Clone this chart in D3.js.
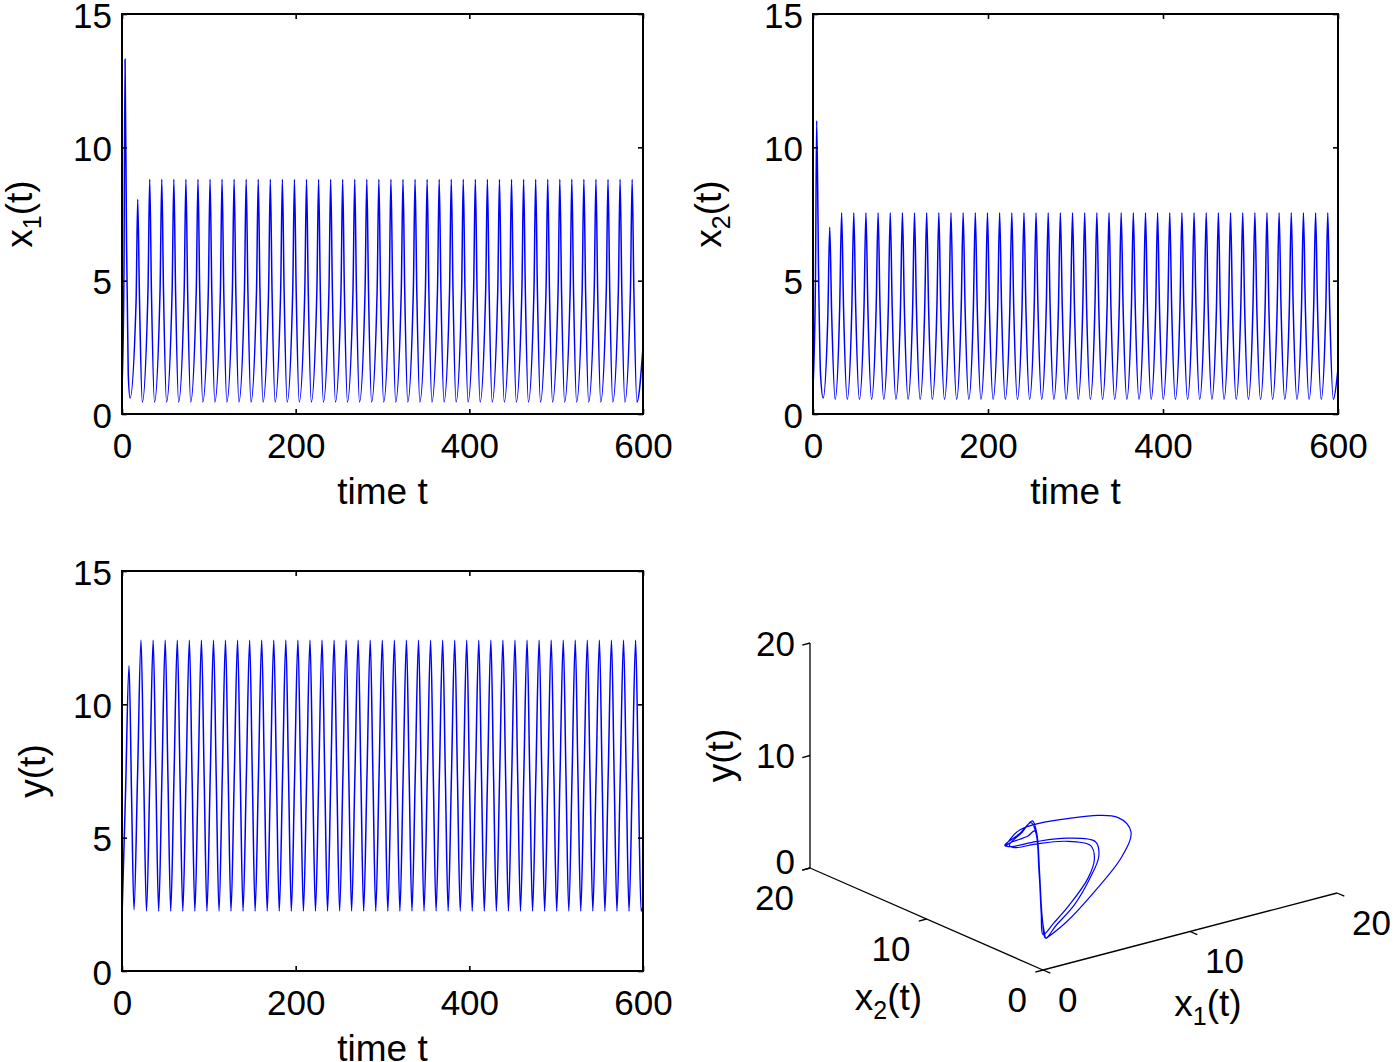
<!DOCTYPE html>
<html><head><meta charset="utf-8">
<script src="https://cdn.jsdelivr.net/npm/d3@7"></script>
<style>body{margin:0;background:#fff}</style>
</head><body>
<svg id="c" width="1395" height="1062" xmlns="http://www.w3.org/2000/svg"></svg>
<script>
// ---------------- data ----------------
const timeTicks = [0, 200, 400, 600];
const valueTicks = [0, 5, 10, 15];
const axis3dTicks = [0, 10, 20];

// x1(t): [time, value] key points (peaks, half-levels, troughs)
const x1Points = [
[0,1.0],[2.2,5.0],[3.5,13.3],[5.2,6.5],[7.2,1.5],[9.3,0.6],[16.2,4.2],[18.1,8.05],[20.1,4.4],[23.4,0.45],[29.9,4.6],
[31.9,8.8],[33.9,4.6],[37.4,0.45],[43.8,4.6],
[45.8,8.8],[47.8,4.6],[51.3,0.45],[57.7,4.6],
[59.7,8.8],[61.7,4.6],[65.2,0.45],[71.6,4.6],
[73.6,8.8],[75.6,4.6],[79.1,0.45],[85.5,4.6],
[87.5,8.8],[89.5,4.6],[93.0,0.45],[99.4,4.6],
[101.4,8.8],[103.4,4.6],[106.9,0.45],[113.3,4.6],
[115.2,8.8],[117.2,4.6],[120.7,0.45],[127.1,4.6],
[129.1,8.8],[131.1,4.6],[134.6,0.45],[141.0,4.6],
[143.0,8.8],[145.0,4.6],[148.5,0.45],[154.9,4.6],
[156.9,8.8],[158.9,4.6],[162.4,0.45],[168.8,4.6],
[170.8,8.8],[172.8,4.6],[176.3,0.45],[182.7,4.6],
[184.7,8.8],[186.7,4.6],[190.2,0.45],[196.6,4.6],
[198.6,8.8],[200.6,4.6],[204.1,0.45],[210.5,4.6],
[212.5,8.8],[214.5,4.6],[218.0,0.45],[224.4,4.6],
[226.4,8.8],[228.4,4.6],[231.9,0.45],[238.3,4.6],
[240.3,8.8],[242.3,4.6],[245.8,0.45],[252.2,4.6],
[254.1,8.8],[256.1,4.6],[259.6,0.45],[266.0,4.6],
[268.0,8.8],[270.0,4.6],[273.5,0.45],[279.9,4.6],
[281.9,8.8],[283.9,4.6],[287.4,0.45],[293.8,4.6],
[295.8,8.8],[297.8,4.6],[301.3,0.45],[307.7,4.6],
[309.7,8.8],[311.7,4.6],[315.2,0.45],[321.6,4.6],
[323.6,8.8],[325.6,4.6],[329.1,0.45],[335.5,4.6],
[337.5,8.8],[339.5,4.6],[343.0,0.45],[349.4,4.6],
[351.4,8.8],[353.4,4.6],[356.9,0.45],[363.3,4.6],
[365.3,8.8],[367.3,4.6],[370.8,0.45],[377.2,4.6],
[379.2,8.8],[381.2,4.6],[384.7,0.45],[391.1,4.6],
[393.0,8.8],[395.0,4.6],[398.5,0.45],[404.9,4.6],
[406.9,8.8],[408.9,4.6],[412.4,0.45],[418.8,4.6],
[420.8,8.8],[422.8,4.6],[426.3,0.45],[432.7,4.6],
[434.7,8.8],[436.7,4.6],[440.2,0.45],[446.6,4.6],
[448.6,8.8],[450.6,4.6],[454.1,0.45],[460.5,4.6],
[462.5,8.8],[464.5,4.6],[468.0,0.45],[474.4,4.6],
[476.4,8.8],[478.4,4.6],[481.9,0.45],[488.3,4.6],
[490.3,8.8],[492.3,4.6],[495.8,0.45],[502.2,4.6],
[504.2,8.8],[506.2,4.6],[509.7,0.45],[516.1,4.6],
[518.0,8.8],[520.0,4.6],[523.5,0.45],[529.9,4.6],
[531.9,8.8],[533.9,4.6],[537.4,0.45],[543.8,4.6],
[545.8,8.8],[547.8,4.6],[551.3,0.45],[557.7,4.6],
[559.7,8.8],[561.7,4.6],[565.2,0.45],[571.6,4.6],
[573.6,8.8],[575.6,4.6],[579.1,0.45],[585.5,4.6],
[587.5,8.8],[589.5,4.6],[593.0,0.45],[600.0,2.5]
];

// x2(t)
const x2Points = [
[0,1.0],[2.8,5.0],[4.2,11.0],[6.4,5.2],[8.6,1.5],[11.6,0.6],[16.9,3.6],[19.1,7.0],[21.3,3.8],[25.3,0.55],[30.5,4.0],
[32.7,7.55],[34.9,4.0],[39.1,0.55],[44.4,4.0],
[46.6,7.55],[48.8,4.0],[53.0,0.55],[58.3,4.0],
[60.5,7.55],[62.7,4.0],[66.9,0.55],[72.2,4.0],
[74.4,7.55],[76.6,4.0],[80.8,0.55],[86.1,4.0],
[88.3,7.55],[90.5,4.0],[94.7,0.55],[100.0,4.0],
[102.2,7.55],[104.4,4.0],[108.6,0.55],[113.9,4.0],
[116.0,7.55],[118.2,4.0],[122.4,0.55],[127.7,4.0],
[129.9,7.55],[132.1,4.0],[136.3,0.55],[141.6,4.0],
[143.8,7.55],[146.0,4.0],[150.2,0.55],[155.5,4.0],
[157.7,7.55],[159.9,4.0],[164.1,0.55],[169.4,4.0],
[171.6,7.55],[173.8,4.0],[178.0,0.55],[183.3,4.0],
[185.5,7.55],[187.7,4.0],[191.9,0.55],[197.2,4.0],
[199.4,7.55],[201.6,4.0],[205.8,0.55],[211.1,4.0],
[213.3,7.55],[215.5,4.0],[219.7,0.55],[225.0,4.0],
[227.2,7.55],[229.4,4.0],[233.6,0.55],[238.9,4.0],
[241.1,7.55],[243.3,4.0],[247.5,0.55],[252.8,4.0],
[254.9,7.55],[257.1,4.0],[261.3,0.55],[266.6,4.0],
[268.8,7.55],[271.0,4.0],[275.2,0.55],[280.5,4.0],
[282.7,7.55],[284.9,4.0],[289.1,0.55],[294.4,4.0],
[296.6,7.55],[298.8,4.0],[303.0,0.55],[308.3,4.0],
[310.5,7.55],[312.7,4.0],[316.9,0.55],[322.2,4.0],
[324.4,7.55],[326.6,4.0],[330.8,0.55],[336.1,4.0],
[338.3,7.55],[340.5,4.0],[344.7,0.55],[350.0,4.0],
[352.2,7.55],[354.4,4.0],[358.6,0.55],[363.9,4.0],
[366.1,7.55],[368.3,4.0],[372.5,0.55],[377.8,4.0],
[380.0,7.55],[382.2,4.0],[386.4,0.55],[391.7,4.0],
[393.8,7.55],[396.0,4.0],[400.2,0.55],[405.5,4.0],
[407.7,7.55],[409.9,4.0],[414.1,0.55],[419.4,4.0],
[421.6,7.55],[423.8,4.0],[428.0,0.55],[433.3,4.0],
[435.5,7.55],[437.7,4.0],[441.9,0.55],[447.2,4.0],
[449.4,7.55],[451.6,4.0],[455.8,0.55],[461.1,4.0],
[463.3,7.55],[465.5,4.0],[469.7,0.55],[475.0,4.0],
[477.2,7.55],[479.4,4.0],[483.6,0.55],[488.9,4.0],
[491.1,7.55],[493.3,4.0],[497.5,0.55],[502.8,4.0],
[505.0,7.55],[507.2,4.0],[511.4,0.55],[516.7,4.0],
[518.8,7.55],[521.0,4.0],[525.2,0.55],[530.5,4.0],
[532.7,7.55],[534.9,4.0],[539.1,0.55],[544.4,4.0],
[546.6,7.55],[548.8,4.0],[553.0,0.55],[558.3,4.0],
[560.5,7.55],[562.7,4.0],[566.9,0.55],[572.2,4.0],
[574.4,7.55],[576.6,4.0],[580.8,0.55],[586.1,4.0],
[588.3,7.55],[590.5,4.0],[594.7,0.55],[600.0,1.7]
];

// y(t)
const yPoints = [
[0,2.0],[4.0,6.6],[8.1,11.45],[11.0,6.6],[13.8,2.3],[17.9,7.3],[21.9,12.4],[25.0,7.3],[28.2,2.25],[32.1,7.3],
[35.9,12.4],[39.0,7.3],[42.2,2.25],[46.0,7.3],
[49.8,12.4],[52.9,7.3],[56.1,2.25],[59.9,7.3],
[63.7,12.4],[66.8,7.3],[70.0,2.25],[73.8,7.3],
[77.6,12.4],[80.7,7.3],[83.9,2.25],[87.7,7.3],
[91.5,12.4],[94.6,7.3],[97.8,2.25],[101.6,7.3],
[105.4,12.4],[108.5,7.3],[111.7,2.25],[115.5,7.3],
[119.2,12.4],[122.3,7.3],[125.5,2.25],[129.3,7.3],
[133.1,12.4],[136.2,7.3],[139.4,2.25],[143.2,7.3],
[147.0,12.4],[150.1,7.3],[153.3,2.25],[157.1,7.3],
[160.9,12.4],[164.0,7.3],[167.2,2.25],[171.0,7.3],
[174.8,12.4],[177.9,7.3],[181.1,2.25],[184.9,7.3],
[188.7,12.4],[191.8,7.3],[195.0,2.25],[198.8,7.3],
[202.6,12.4],[205.7,7.3],[208.9,2.25],[212.7,7.3],
[216.5,12.4],[219.6,7.3],[222.8,2.25],[226.6,7.3],
[230.4,12.4],[233.5,7.3],[236.7,2.25],[240.5,7.3],
[244.3,12.4],[247.4,7.3],[250.6,2.25],[254.4,7.3],
[258.1,12.4],[261.2,7.3],[264.4,2.25],[268.2,7.3],
[272.0,12.4],[275.1,7.3],[278.3,2.25],[282.1,7.3],
[285.9,12.4],[289.0,7.3],[292.2,2.25],[296.0,7.3],
[299.8,12.4],[302.9,7.3],[306.1,2.25],[309.9,7.3],
[313.7,12.4],[316.8,7.3],[320.0,2.25],[323.8,7.3],
[327.6,12.4],[330.7,7.3],[333.9,2.25],[337.7,7.3],
[341.5,12.4],[344.6,7.3],[347.8,2.25],[351.6,7.3],
[355.4,12.4],[358.5,7.3],[361.7,2.25],[365.5,7.3],
[369.3,12.4],[372.4,7.3],[375.6,2.25],[379.4,7.3],
[383.2,12.4],[386.3,7.3],[389.5,2.25],[393.3,7.3],
[397.0,12.4],[400.1,7.3],[403.3,2.25],[407.1,7.3],
[410.9,12.4],[414.0,7.3],[417.2,2.25],[421.0,7.3],
[424.8,12.4],[427.9,7.3],[431.1,2.25],[434.9,7.3],
[438.7,12.4],[441.8,7.3],[445.0,2.25],[448.8,7.3],
[452.6,12.4],[455.7,7.3],[458.9,2.25],[462.7,7.3],
[466.5,12.4],[469.6,7.3],[472.8,2.25],[476.6,7.3],
[480.4,12.4],[483.5,7.3],[486.7,2.25],[490.5,7.3],
[494.3,12.4],[497.4,7.3],[500.6,2.25],[504.4,7.3],
[508.2,12.4],[511.3,7.3],[514.5,2.25],[518.3,7.3],
[522.0,12.4],[525.1,7.3],[528.3,2.25],[532.1,7.3],
[535.9,12.4],[539.0,7.3],[542.2,2.25],[546.0,7.3],
[549.8,12.4],[552.9,7.3],[556.1,2.25],[559.9,7.3],
[563.7,12.4],[566.8,7.3],[570.0,2.25],[573.8,7.3],
[577.6,12.4],[580.7,7.3],[583.9,2.25],[587.7,7.3],
[591.5,12.4],[594.6,7.3],[597.8,2.25],[600.0,2.4]
];

// phase portrait (x1, x2, y) along the trajectory
const traj3dX1 = [1.0,3.0,6.5,10.5,12.8,13.2,10.5,6.5,3.0,1.3,0.8,0.7,0.6,0.55,0.6,
  1.4,3.0,5.6,7.3,8.0,6.9,5.0,2.8,1.2,0.8,0.7,0.65,0.6,0.65,0.8,
  1.6,3.4,6.0,8.0,8.8,7.5,5.5,3.0,1.2,0.8,0.7,0.65,0.6,0.65,0.8];
const traj3dX2 = [1.0,1.8,3.8,6.5,8.6,10.2,11.0,10.2,7.0,4.5,2.3,1.6,1.1,0.85,0.75,
  0.85,1.5,3.2,4.8,6.0,6.8,7.0,6.0,4.4,2.8,1.8,1.35,1.05,0.88,0.8,
  0.9,1.6,3.5,5.3,6.6,7.4,7.55,6.5,4.8,3.0,1.9,1.4,1.1,0.9,0.8];
const traj3dY = [2.0,2.4,3.0,3.5,4.0,4.4,4.9,5.6,6.8,8.8,10.6,11.4,8.0,4.5,2.6,
  3.3,4.1,4.8,5.2,5.6,6.0,6.3,7.2,8.7,10.7,12.2,11.3,8.0,4.0,2.2,
  3.0,3.9,4.6,5.0,5.4,5.8,6.1,7.0,8.5,10.5,12.0,11.2,8.0,4.0,2.2];

// ---------------- drawing ----------------
const FONT = '"Liberation Sans", Arial, Helvetica, sans-serif';
const TICK_FS = 35, LABEL_FS = 37, SUB_FS = 25;
const BLUE = '#0000ff';
const svg = d3.select('#c');
svg.append('rect').attr('width',1395).attr('height',1062).attr('fill','#fff');

function styleAxis(sel){
  sel.select('.domain').remove();
  sel.selectAll('.tick line').attr('stroke','#000').attr('stroke-width',1.6);
  sel.selectAll('text').attr('font-size',TICK_FS).attr('font-family',FONT).attr('fill','#000');
}

function addLabel(g, x, y, main, sub, rest, rotate){
  const t = g.append('text').attr('font-family',FONT).attr('font-size',LABEL_FS)
    .attr('text-anchor','middle').attr('fill','#000')
    .attr('transform', `translate(${x},${y})` + (rotate ? ' rotate(-90)' : ''));
  t.append('tspan').text(main);
  if (sub){
    t.append('tspan').attr('font-size',SUB_FS).attr('dy',9).text(sub);
    t.append('tspan').attr('dy',-9).text(rest);
  } else if (rest) {
    t.append('tspan').text(rest);
  }
}

function timePanel(box, points, yl){
  const x = d3.scaleLinear().domain([0,600]).range([box.l, box.r]);
  const y = d3.scaleLinear().domain([0,15]).range([box.b, box.t]);
  const g = svg.append('g');
  g.append('path').datum(points)
    .attr('d', d3.line().x(d=>x(d[0])).y(d=>y(d[1])).curve(d3.curveMonotoneX))
    .attr('fill','none').attr('stroke',BLUE).attr('stroke-width',1.5);
  g.append('g').attr('transform',`translate(0,${box.b})`)
    .call(d3.axisBottom(x).tickValues(timeTicks).tickSize(-5).tickPadding(19)).call(styleAxis);
  g.append('g').attr('transform',`translate(0,${box.t})`)
    .call(d3.axisTop(x).tickValues(timeTicks).tickSize(-5).tickFormat('')).call(styleAxis);
  g.append('g').attr('transform',`translate(${box.l},0)`)
    .call(d3.axisLeft(y).tickValues(valueTicks).tickSize(-5).tickPadding(10)).call(styleAxis)
    .call(s => s.selectAll('text').attr('dy','0.38em'));
  g.append('g').attr('transform',`translate(${box.r},0)`)
    .call(d3.axisRight(y).tickValues(valueTicks).tickSize(-5).tickFormat('')).call(styleAxis);
  g.append('rect').attr('x',box.l).attr('y',box.t).attr('width',box.r-box.l).attr('height',box.b-box.t)
    .attr('fill','none').attr('stroke','#000').attr('stroke-width',2);
  addLabel(g, (box.l+box.r)/2, box.b+90, 'time t', null, null, false);
  addLabel(g, box.l + yl.dx, (box.t+box.b)/2, yl.main, yl.sub, yl.rest, true);
}

timePanel({l:122, r:643, t:14, b:414}, x1Points, {dx:-90, main:'x', sub:'1', rest:'(t)'});
timePanel({l:813, r:1338, t:14, b:414}, x2Points, {dx:-92, main:'x', sub:'2', rest:'(t)'});
timePanel({l:122, r:643, t:571, b:971}, yPoints, {dx:-77, main:'y(t)', sub:null, rest:null});

// ---- 3-D phase portrait (MATLAB default view projection) ----
const s3 = d3.scaleLinear().domain([0,20]).range([0,1]);
const O3 = [1043, 970];         // screen position of (0,0,0)
const V1 = [294, -77];          // full x1 axis (0..20) on screen
const V2 = [-233, -102];        // full x2 axis (0..20) on screen
const V3 = [0, -225];           // full y axis (0..20) on screen
function proj(a, b, c){
  const u = s3(a), v = s3(b), w = s3(c);
  return [O3[0] + u*V1[0] + v*V2[0] + w*V3[0], O3[1] + u*V1[1] + v*V2[1] + w*V3[1]];
}
const g3 = svg.append('g');
const axLine = (p, q) => g3.append('line').attr('x1',p[0]).attr('y1',p[1]).attr('x2',q[0]).attr('y2',q[1])
  .attr('stroke','#000').attr('stroke-width',1.3);
axLine(proj(0,0,0), proj(20,0,0));
axLine(proj(0,0,0), proj(0,20,0));
axLine(proj(0,20,0), proj(0,20,20));

function unit(v){ const l = Math.hypot(v[0], v[1]); return [v[0]/l, v[1]/l]; }
const dMinus1 = unit([-V1[0], -V1[1]]), dMinus2 = unit([-V2[0], -V2[1]]);
const TL = 8;
const tickText = (x, y, s, anchor) => g3.append('text').attr('x',x).attr('y',y).attr('font-family',FONT)
  .attr('font-size',TICK_FS).attr('text-anchor',anchor).attr('dominant-baseline','central').attr('fill','#000').text(s);

axis3dTicks.forEach(t => {
  let p = proj(t,0,0);
  axLine(p, [p[0]+dMinus2[0]*TL, p[1]+dMinus2[1]*TL]);
  tickText(p[0]+15, p[1]+29, t, 'start');
  p = proj(0,t,0);
  axLine(p, [p[0]+dMinus1[0]*TL, p[1]+dMinus1[1]*TL]);
  tickText(p[0]-16, p[1]+29, t, 'end');
  p = proj(0,20,t);
  axLine(p, [p[0]+dMinus1[0]*TL, p[1]+dMinus1[1]*TL]);
  tickText(p[0]-15, p[1] + (t===0 ? -7 : 0), t, 'end');
});

const m1 = proj(10,0,0), m2 = proj(0,10,0), m3 = proj(0,20,10);
addLabel(g3, m1[0]+18, m1[1]+84, 'x', '1', '(t)', false);
addLabel(g3, m2[0]-38, m2[1]+91, 'x', '2', '(t)', false);
addLabel(g3, m3[0]-77, m3[1], 'y(t)', null, null, true);

const traj = traj3dX1.map((v,i) => proj(v, traj3dX2[i], traj3dY[i]));
g3.append('path').datum(traj)
  .attr('d', d3.line().curve(d3.curveCatmullRom.alpha(0.5)))
  .attr('fill','none').attr('stroke',BLUE).attr('stroke-width',1.2);
</script>
</body></html>
